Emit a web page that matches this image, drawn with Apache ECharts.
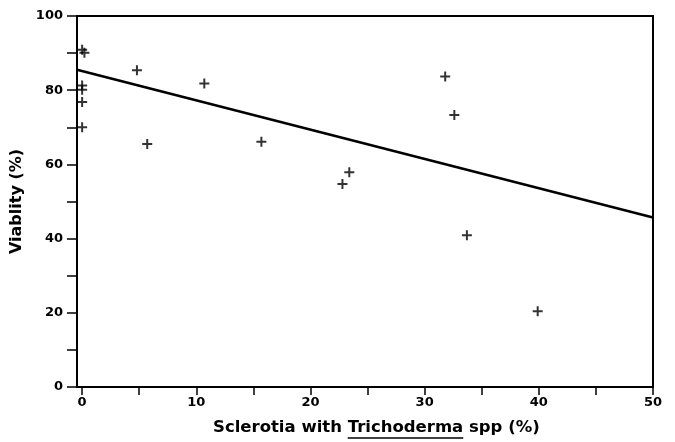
<!DOCTYPE html>
<html>
<head>
<meta charset="utf-8">
<script src="https://cdn.jsdelivr.net/npm/echarts@6/dist/echarts.min.js"></script>
<style>
  html, body { margin: 0; background: #fff; }
  #chart { width: 675px; height: 442px; }
</style>
</head>
<body>
<div id="chart"></div>
<script>
// data
const pointX = [0, 0.2, 0, 0, 0, 0, 4.8, 5.7, 10.7, 15.7, 22.8, 23.4, 31.8, 32.6, 33.7, 39.9];
const pointY = [90.9, 90.1, 81.3, 80.1, 76.8, 70.0, 85.4, 65.5, 81.8, 66.1, 54.7, 57.9, 83.7, 73.3, 40.9, 20.4];
// regression line end points
const fitX = [-0.45, 50];
const fitY = [85.5, 45.7];

const xTickValues = [0, 5, 10, 15, 20, 25, 30, 35, 40, 45, 50];
const xLabelValues = [0, 10, 20, 30, 40, 50];
const yLabelValues = [0, 20, 40, 60, 80, 100];
const xTitleParts = ['Sclerotia with ', 'Trichoderma', ' spp (%)'];
const yTitle = 'Viablity (%)';

const FONT = '"DejaVu Sans", sans-serif';
const titleFont = 'bold 16.5px "DejaVu Sans"';

const chart = echarts.init(document.getElementById('chart'));

// measure title pieces so the underline sits under "Trichoderma"
const ctx = document.createElement('canvas').getContext('2d');
ctx.font = titleFont;
const w0 = ctx.measureText(xTitleParts[0]).width;
const w1 = ctx.measureText(xTitleParts[1]).width;
const titleLeft = 213, titleTop = 419;

const plus = 'path://M4,0h2v4h4v2h-4v4h-2v-4h-4v-2h4z';

chart.setOption({
  animation: false,
  backgroundColor: '#fff',
  grid: {
    left: 77, right: 22, top: 16, bottom: 55,
    show: true,
    borderColor: '#000',
    borderWidth: 2
  },
  xAxis: {
    type: 'value',
    min: -0.45,
    max: 50,
    splitLine: { show: false },
    axisLine: { lineStyle: { color: '#000', width: 2 } },
    axisTick: { customValues: xTickValues, length: 8, lineStyle: { color: '#000', width: 1.5 } },
    axisLabel: {
      customValues: xLabelValues,
      margin: 9,
      color: '#000',
      fontFamily: FONT,
      fontWeight: 'bold',
      fontSize: 13
    }
  },
  yAxis: {
    type: 'value',
    min: 0,
    max: 100,
    interval: 10,
    name: yTitle,
    nameLocation: 'middle',
    nameGap: 50,
    nameTextStyle: { color: '#000', fontFamily: FONT, fontWeight: 'bold', fontSize: 16 },
    splitLine: { show: false },
    axisLine: { onZero: false, lineStyle: { color: '#000', width: 2 } },
    axisTick: { length: 10, lineStyle: { color: '#000', width: 1.5 } },
    axisLabel: {
      customValues: yLabelValues,
      margin: 14,
      color: '#000',
      fontFamily: FONT,
      fontWeight: 'bold',
      fontSize: 13
    }
  },
  graphic: [{
    type: 'group',
    left: titleLeft,
    top: titleTop,
    children: [
      { type: 'text', x: 0, y: 0, style: { text: xTitleParts.join(''), font: titleFont, fill: '#000' } },
      { type: 'line', shape: { x1: w0, y1: 19, x2: w0 + w1, y2: 19 }, style: { stroke: '#000', lineWidth: 1.5 } }
    ]
  }],
  series: [
    {
      type: 'line',
      data: fitX.map((x, i) => [x, fitY[i]]),
      showSymbol: false,
      lineStyle: { color: '#000', width: 2.5 },
      z: 2
    },
    {
      type: 'scatter',
      data: pointX.map((x, i) => [x, pointY[i]]),
      symbol: plus,
      symbolSize: 10,
      itemStyle: { color: '#000' },
      z: 3
    }
  ]
});
</script>
</body>
</html>
